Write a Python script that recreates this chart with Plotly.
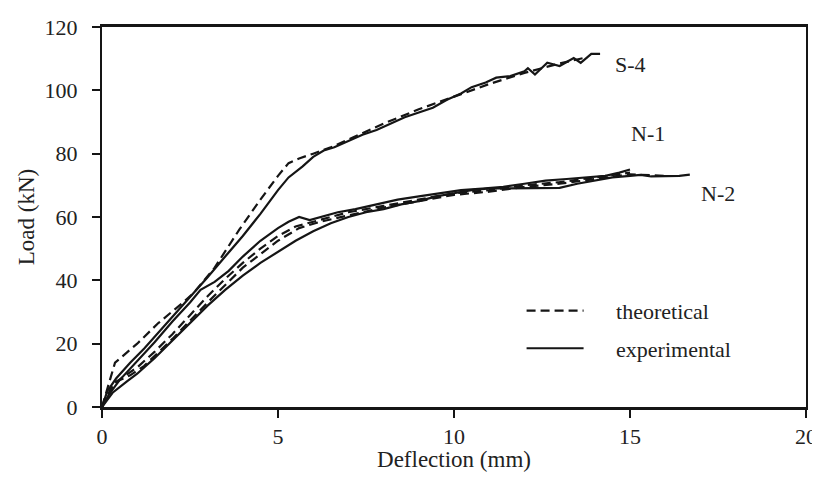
import plotly.graph_objects as go

# ---------------- data ----------------
s4_exp_x = [0, 0.15, 0.4, 0.8, 1.2, 1.6, 2.0, 2.5, 3.0, 3.5, 4.0, 4.5, 5.0, 5.3, 5.7, 6.0, 6.3, 6.6,
            7.0, 7.4, 7.8, 8.2, 8.6, 9.0, 9.4, 9.8, 10.2, 10.5, 10.9, 11.2, 11.6, 12.0, 12.1, 12.3,
            12.65, 13.0, 13.2, 13.4, 13.6, 13.9, 14.15]
s4_exp_y = [0, 5, 9, 14, 18.5, 23.5, 28.5, 34.5, 41, 47.5, 54, 61, 68.5, 72.5, 76, 79, 81, 82,
            84, 86, 87.5, 89.5, 91.5, 93, 94.5, 97, 99, 101, 102.5, 104, 104.5, 106, 107, 105,
            108.7, 107.7, 109, 110.2, 108.7, 111.5, 111.5]

s4_th_x = [0, 0.37, 1.0, 1.6, 2.3, 2.6, 3.2, 3.9, 4.5, 5.0, 5.3, 5.6, 6.0, 6.5, 7.0, 8.0, 9.0,
           10.0, 11.0, 12.0, 13.0, 13.8]
s4_th_y = [0, 14, 20, 26.5, 33, 36, 44, 56, 65.5, 73, 77, 78.5, 80, 82, 84.5, 89.5, 94,
           98, 102, 105.5, 108.5, 110.5]

n1_exp_x = [0, 0.2, 0.5, 1.0, 1.5, 2.0, 2.5, 2.8, 3.2, 3.6, 4.0, 4.5, 5.0, 5.3, 5.6, 5.9, 6.2,
            6.7, 7.2, 7.8, 8.4, 9.0, 9.6, 10.2, 10.8, 11.4, 12.0, 12.6, 13.2, 13.8, 14.3, 14.7, 15.0]
n1_exp_y = [0, 4, 8.5, 14.5, 20.5, 27, 33, 37, 39.5, 43, 47.5, 52.5, 56.5, 58.5, 60, 59, 60,
            61.5, 62.5, 64, 65.5, 66.5, 67.5, 68.5, 69, 69.5, 70.5, 71.5, 72, 72.5, 73, 74, 75]

n1_th_x = [0, 0.3, 0.6, 1.0, 1.5, 2.0, 2.5, 3.0, 3.5, 4.0, 4.5, 5.0, 5.5, 6.0, 6.5, 7.0, 8.0,
           9.0, 10.0, 11.0, 12.0, 13.0, 14.0, 15.0]
n1_th_y = [0, 7, 9.5, 12.5, 17.5, 23, 29, 35, 40.5, 45.5, 50, 54, 57, 58.5, 60, 61.5, 63.5,
           65.5, 67.5, 68.5, 70, 71, 72.5, 74]

n2_exp_x = [0, 0.3, 0.7, 1.0, 1.5, 2.0, 2.5, 3.0, 3.5, 4.0, 4.5, 5.0, 5.5, 6.0, 6.5, 7.0, 7.5,
            8.0, 8.5, 9.0, 9.5, 10.0, 10.5, 11.0, 11.5, 12.0, 12.5, 13.0, 13.5, 14.0, 14.5, 15.0,
            15.3, 15.6, 16.0, 16.4, 16.7]
n2_exp_y = [0, 4.5, 8, 10.5, 15.5, 21, 26.5, 32, 37, 41.5, 45.5, 49, 52.5, 55.5, 58, 60, 61.5,
            62.5, 64, 65, 66.5, 67.5, 68.5, 69, 69, 69, 69, 69.2, 70.5, 71.5, 72.5, 73,
            73.3, 72.8, 73, 73, 73.4]

n2_th_x = [0, 0.4, 0.8, 1.2, 2.0, 3.0, 4.0, 5.0, 5.6, 6.2, 7.0, 8.0, 9.0, 10.0, 11.0, 12.0,
           13.0, 14.0, 15.0, 16.0]
n2_th_y = [0, 8, 10, 13, 21.5, 33, 44, 52.5, 56.5, 58.5, 60.5, 63, 65, 67, 68, 69.5,
           70.5, 72, 73.5, 73]

x_ticks = [0, 5, 10, 15, 20]
y_ticks = [0, 20, 40, 60, 80, 100, 120]

labels_text = ["S-4", "N-1", "N-2"]
labels_x = [15.0, 15.5, 17.5]
labels_y = [108.3, 86.3, 67.4]

legend_names = ["\u00a0\u00a0\u00a0\u00a0\u00a0theoretical", "\u00a0\u00a0\u00a0\u00a0\u00a0experimental"]

# ---------------- figure ----------------
FONT = "Liberation Serif"
INK = "#151515"
TXT = "#222222"
DASH = "9px,5px"

fig = go.Figure()

def add(x, y, dashed, show):
    name = legend_names[0] if dashed else legend_names[1]
    fig.add_trace(go.Scatter(
        x=x, y=y, mode="lines", name=name, showlegend=show,
        legendgroup=name,
        line=dict(color=INK, width=2.2, dash=DASH if dashed else "solid"),
        hoverinfo="skip"))

add(s4_th_x, s4_th_y, True, True)
add(s4_exp_x, s4_exp_y, False, True)
add(n1_th_x, n1_th_y, True, False)
add(n1_exp_x, n1_exp_y, False, False)
add(n2_th_x, n2_th_y, True, False)
add(n2_exp_x, n2_exp_y, False, False)

for t, lx, ly in zip(labels_text, labels_x, labels_y):
    fig.add_annotation(x=lx, y=ly, text=t, showarrow=False,
                       font=dict(family=FONT, size=22, color=TXT))

axis_common = dict(
    showline=True, linecolor=INK, mirror=True,
    ticks="outside", ticklen=8, tickwidth=1.5, tickcolor=INK,
    showgrid=False, zeroline=False, ticklabeloverflow="allow",
    tickfont=dict(family=FONT, size=22, color=TXT),
)

fig.update_xaxes(range=[0, 20], tickvals=x_ticks, ticklabelstandoff=0, linewidth=2.5,
                 **axis_common,
                 title=dict(text="Deflection (mm)", standoff=18,
                            font=dict(family=FONT, size=23, color=TXT)))
fig.update_yaxes(range=[0, 120], tickvals=y_ticks, ticklabelstandoff=10, linewidth=2,
                 **axis_common,
                 title=dict(text="Load (kN)", standoff=4,
                            font=dict(family=FONT, size=23, color=TXT)))

# page has an 8px body margin: figure drawn at (8, 8), sized so the page does not scroll
fig.update_layout(
    width=812, height=464,
    margin=dict(l=94, r=14, t=19, b=65, autoexpand=False),
    paper_bgcolor="white", plot_bgcolor="white",
    legend=dict(x=0.596, y=0.203, xanchor="left", yanchor="middle",
                bgcolor="rgba(0,0,0,0)", borderwidth=0,
                font=dict(family=FONT, size=22, color=TXT),
                tracegroupgap=6, itemwidth=57),
)

fig.write_html("out.html")
